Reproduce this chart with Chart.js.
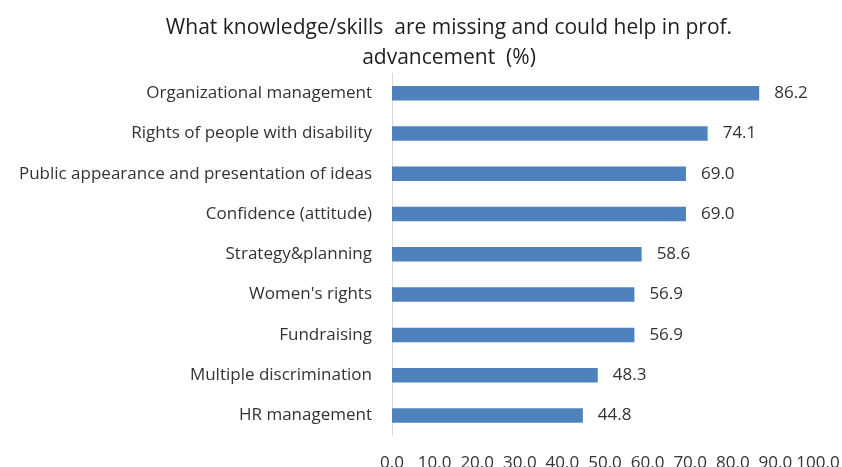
<!DOCTYPE html>
<html>
<head>
<meta charset="utf-8">
<title>Missing knowledge/skills</title>
<script src="https://cdn.jsdelivr.net/npm/chart.js@4"></script>
<style>
  html, body { margin: 0; padding: 0; background: #fff; }
  /* the chart is a bit larger than the window, its right and bottom edges run off */
  #wrap { width: 842px; height: 467px; overflow: hidden; }
  #box { position: relative; width: 898px; height: 492px; }
</style>
</head>
<body>
<div id="wrap"><div id="box"><canvas id="chartCanvas"></canvas></div></div>
<script>
const titleLines = [
    "What knowledge/skills  are missing and could help in prof.",
    "advancement  (%)"
];

const skills = [
    "Organizational management",
    "Rights of people with disability",
    "Public appearance and presentation of ideas",
    "Confidence (attitude)",
    "Strategy&planning",
    "Women's rights",
    "Fundraising",
    "Multiple discrimination",
    "HR management"
];

const percents = [86.2, 74.1, 69.0, 69.0, 58.6, 56.9, 56.9, 48.3, 44.8];

const xTickValues = [0, 10, 20, 30, 40, 50, 60, 70, 80, 90, 100];

const textColor = "#333333";
const barColor = "#4f81bd";

Chart.defaults.font.family = "'Open Sans', sans-serif";

// value printed just right of each bar end
const barValueLabels = {
    id: "barValueLabels",
    afterDatasetsDraw(chart) {
        const ctx = chart.ctx;
        const meta = chart.getDatasetMeta(0);
        ctx.save();
        ctx.font = "17px 'Open Sans', sans-serif";
        ctx.fillStyle = textColor;
        ctx.textAlign = "left";
        ctx.textBaseline = "middle";
        meta.data.forEach((bar, i) => {
            ctx.fillText(percents[i].toFixed(1), bar.x + 15, bar.y);
        });
        ctx.restore();
    }
};

const ctx = document.getElementById("chartCanvas").getContext("2d");

new Chart(ctx, {
    type: "bar",
    data: {
        labels: skills,
        datasets: [{
            data: percents,
            backgroundColor: barColor,
            borderWidth: 0,
            categoryPercentage: 0.36,
            barPercentage: 1.0
        }]
    },
    options: {
        indexAxis: "y",
        responsive: true,
        maintainAspectRatio: false,
        animation: false,
        layout: {
            padding: { left: 0, right: 0, top: 0, bottom: 2 }
        },
        plugins: {
            legend: { display: false },
            tooltip: { enabled: false },
            title: {
                display: true,
                text: titleLines,
                color: "#1f1f1f",
                font: { size: 21, weight: "normal", lineHeight: 1.43 },
                padding: { top: 13, bottom: 0 }
            }
        },
        scales: {
            y: {
                grid: { display: false, drawTicks: false },
                border: { display: true, color: "#d9d9d9", width: 1 },
                ticks: {
                    color: textColor,
                    font: { size: 17 },
                    padding: 20
                },
                afterFit(scale) {
                    scale.width = 392;
                }
            },
            x: {
                min: 0,
                max: 100,
                grid: { display: false, drawTicks: false },
                border: { display: false },
                afterBuildTicks(scale) {
                    scale.ticks = xTickValues.map(v => ({ value: v }));
                },
                // empty room right of the plot, the title still spans the full width
                afterFit(scale) {
                    scale.paddingRight = Math.max(scale.paddingRight, 80);
                },
                ticks: {
                    color: textColor,
                    font: { size: 17 },
                    padding: 17,
                    maxRotation: 0,
                    autoSkip: false,
                    callback: v => Number(v).toFixed(1)
                }
            }
        }
    },
    plugins: [barValueLabels]
});
</script>
</body>
</html>
